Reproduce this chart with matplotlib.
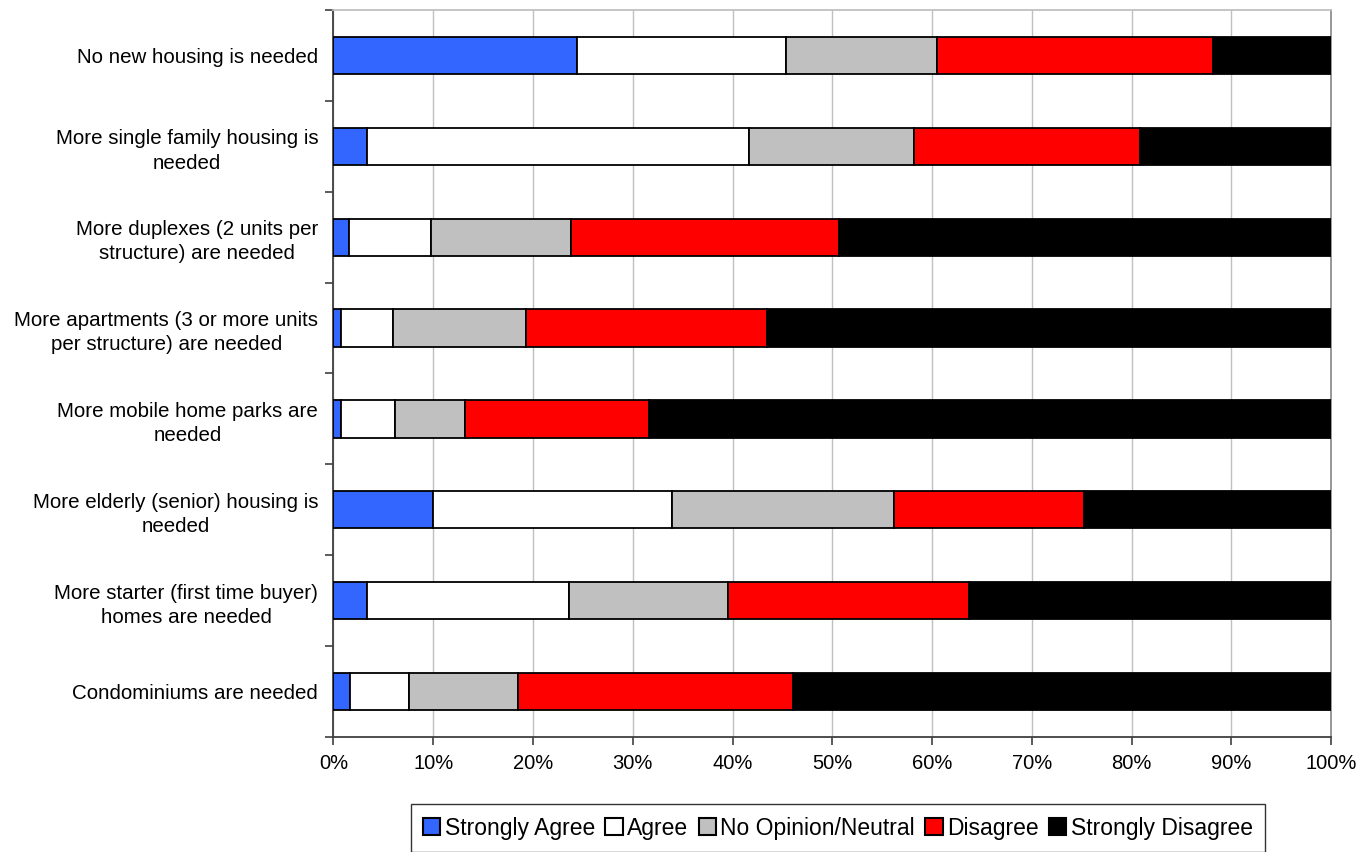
import matplotlib
matplotlib.use("Agg")
import matplotlib.pyplot as plt
from matplotlib.patches import Patch
import numpy as np

plt.rcParams['font.family'] = ['Liberation Sans', 'DejaVu Sans']

categories = [
    "No new housing is needed",
    "More single family housing is\nneeded",
    "More duplexes (2 units per\nstructure) are needed",
    "More apartments (3 or more units\nper structure) are needed",
    "More mobile home parks are\nneeded",
    "More elderly (senior) housing is\nneeded",
    "More starter (first time buyer)\nhomes are needed",
    "Condominiums are needed",
]

series_names = ["Strongly Agree", "Agree", "No Opinion/Neutral", "Disagree", "Strongly Disagree"]

strongly_agree    = [24.4, 3.4, 1.6, 0.8, 0.8, 10.0, 3.4, 1.7]
agree             = [21.0, 38.3, 8.2, 5.2, 5.4, 23.9, 20.2, 5.9]
neutral           = [15.1, 16.5, 14.0, 13.3, 7.0, 22.3, 15.9, 10.9]
disagree          = [27.7, 22.6, 26.9, 24.2, 18.4, 19.0, 24.2, 27.6]
strongly_disagree = [11.8, 19.2, 49.3, 56.5, 68.4, 24.8, 36.3, 53.9]

colors = ["#3366ff", "#ffffff", "#c0c0c0", "#ff0000", "#000000"]

values = [strongly_agree, agree, neutral, disagree, strongly_disagree]

fig = plt.figure(figsize=(13.69, 8.52), dpi=100)
ax = fig.add_axes([0.2436, 0.135, 0.9723 - 0.2436, 0.9883 - 0.135])

n = len(categories)
y = np.arange(n)
left = np.zeros(n)
for vals, col, name in zip(values, colors, series_names):
    vals = np.array(vals)
    ax.barh(y, vals, left=left, height=0.41, color=col, edgecolor="black",
            linewidth=1.3, label=name, zorder=3)
    left += vals

ax.set_xlim(0, 100)
ax.set_ylim(n - 0.5, -0.5)

xt = np.arange(0, 101, 10)
ax.set_xticks(xt)
ax.set_xticklabels([f"{v}%" for v in xt], fontsize=14.5)
ax.xaxis.grid(True, color="#c0c0c0", linewidth=1.0, zorder=0)
ax.tick_params(axis="x", direction="out", length=6, width=1.2, color="#404040", pad=6)

# category boundaries carry the tick marks, labels sit at the bar centres
ax.set_yticks(np.arange(-0.5, n, 1.0))
ax.set_yticklabels([])
ax.set_yticks(y, minor=True)
ax.set_yticklabels(categories, minor=True, fontsize=14.8)
ax.tick_params(axis="y", which="major", direction="out", length=6, width=1.2, color="#404040")
ax.tick_params(axis="y", which="minor", length=0, pad=11)
for lab in ax.get_yticklabels(minor=True):
    lab.set_multialignment("center")
    lab.set_linespacing(1.35)

ax.spines["left"].set_color("#404040")
ax.spines["left"].set_linewidth(1.3)
ax.spines["bottom"].set_color("#404040")
ax.spines["bottom"].set_linewidth(1.3)
ax.spines["top"].set_color("#c0c0c0")
ax.spines["top"].set_linewidth(1.3)
ax.spines["right"].set_color("#909090")
ax.spines["right"].set_linewidth(1.3)

handles = [Patch(facecolor=c, edgecolor="black", linewidth=1.5) for c in colors]
leg = fig.legend(handles, series_names, loc="center", bbox_to_anchor=(838 / 1369, 1 - 828 / 852),
                 ncol=5, fontsize=16.5, frameon=True, fancybox=False, edgecolor="black",
                 handlelength=0.75, handleheight=0.75, handletextpad=0.2, columnspacing=0.45,
                 borderpad=0.55, borderaxespad=0)
leg.get_frame().set_linewidth(1.0)

fig.savefig("out.png", dpi=100)
